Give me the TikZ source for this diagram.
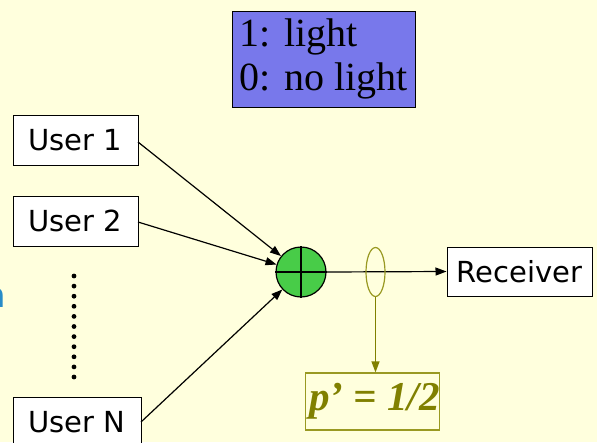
\documentclass[tikz,border=0pt]{standalone}
\usepackage{fontspec}
\setmainfont{Liberation Serif}
\newfontfamily\vsans{DejaVu Sans}
\usetikzlibrary{arrows.meta,shapes.geometric}
\definecolor{bgyellow}{RGB}{255,255,221}
\definecolor{boxblue}{RGB}{120,120,235}
\definecolor{ballgreen}{RGB}{72,204,72}
\definecolor{olive}{RGB}{128,128,0}
\definecolor{oliveline}{RGB}{153,153,34}
\definecolor{textblue}{RGB}{40,140,200}
\tikzset{
  userbox/.style={draw=black, fill=white, line width=1pt, inner sep=0pt,
    font=\vsans\fontsize{29}{32}\selectfont},
  conn/.style={draw=black, line width=1.2pt, -{Triangle[length=11pt,width=8pt]}},
  oconn/.style={draw=olive, line width=1.2pt, -{Triangle[length=11pt,width=8pt]}},
  dotmark/.style={circle, fill=black, inner sep=0pt, minimum size=4.8pt},
}
\begin{document}
\begin{tikzpicture}[x=1pt,y=-1pt]
\useasboundingbox[fill=bgyellow] (0,0) rectangle (597,442);
% partially visible blue text at left edge
\node[anchor=base east, inner sep=0pt, text=textblue, font=\vsans\fontsize{34}{36}\selectfont] (cut) at (6,307) {n};
% legend box
\node[draw=black, fill=boxblue, line width=1pt, minimum width=183pt, minimum height=96pt,
  inner sep=0pt, align=left, font=\fontsize{40}{44}\selectfont] (legend) at (323.5,59) {1: light\\0: no light};
% users
\node[userbox, minimum width=125pt, minimum height=50pt] (u1) at (75.5,140) {User 1};
\node[userbox, minimum width=125pt, minimum height=50pt] (u2) at (75.5,221) {User 2};
\node[userbox, minimum width=128pt, minimum height=50pt] (uN) at (77,422) {User N};
% dots
\foreach \i in {0,...,10} {
  \node[dotmark] (d\i) at (74,{276+10.1*\i}) {};
}
% combiner
\node[circle, draw=black, fill=ballgreen, line width=1.2pt, minimum size=50pt, inner sep=0pt] (circ) at (301,272) {};
\draw[line width=1.2pt] (circ.north) -- (circ.south);
\draw[line width=1.2pt] (circ.west) -- (circ.east);
% receiver
\node[userbox, minimum width=145pt, minimum height=49pt] (rx) at (519.5,271.5) {Receiver};
% result box
\node[draw=oliveline, fill=bgyellow, line width=1.2pt, minimum width=131pt, minimum height=57pt, inner sep=0pt,
  text=olive, font=\bfseries\itshape\fontsize{41}{44}\selectfont] (pbox) at (372.5,401.5) {\hspace{4pt}p’ = 1/2};
% connectors
\coordinate (e1) at (138,142);
\coordinate (e2) at (138,222);
\coordinate (eN) at (141,422);
\draw[conn] (e1) -- (circ);
\draw[conn] (e2) -- (circ);
\draw[conn] (eN) -- (circ);
\draw[conn] (circ.east) -- (rx.west);
% ellipse tap
\node[ellipse, draw=oliveline, line width=1.2pt, minimum width=19pt, minimum height=49pt, inner sep=0pt] (ell) at (375.5,272) {};
\draw[oconn] (ell.south) -- (pbox.north -| ell.south);
\end{tikzpicture}
\end{document}
